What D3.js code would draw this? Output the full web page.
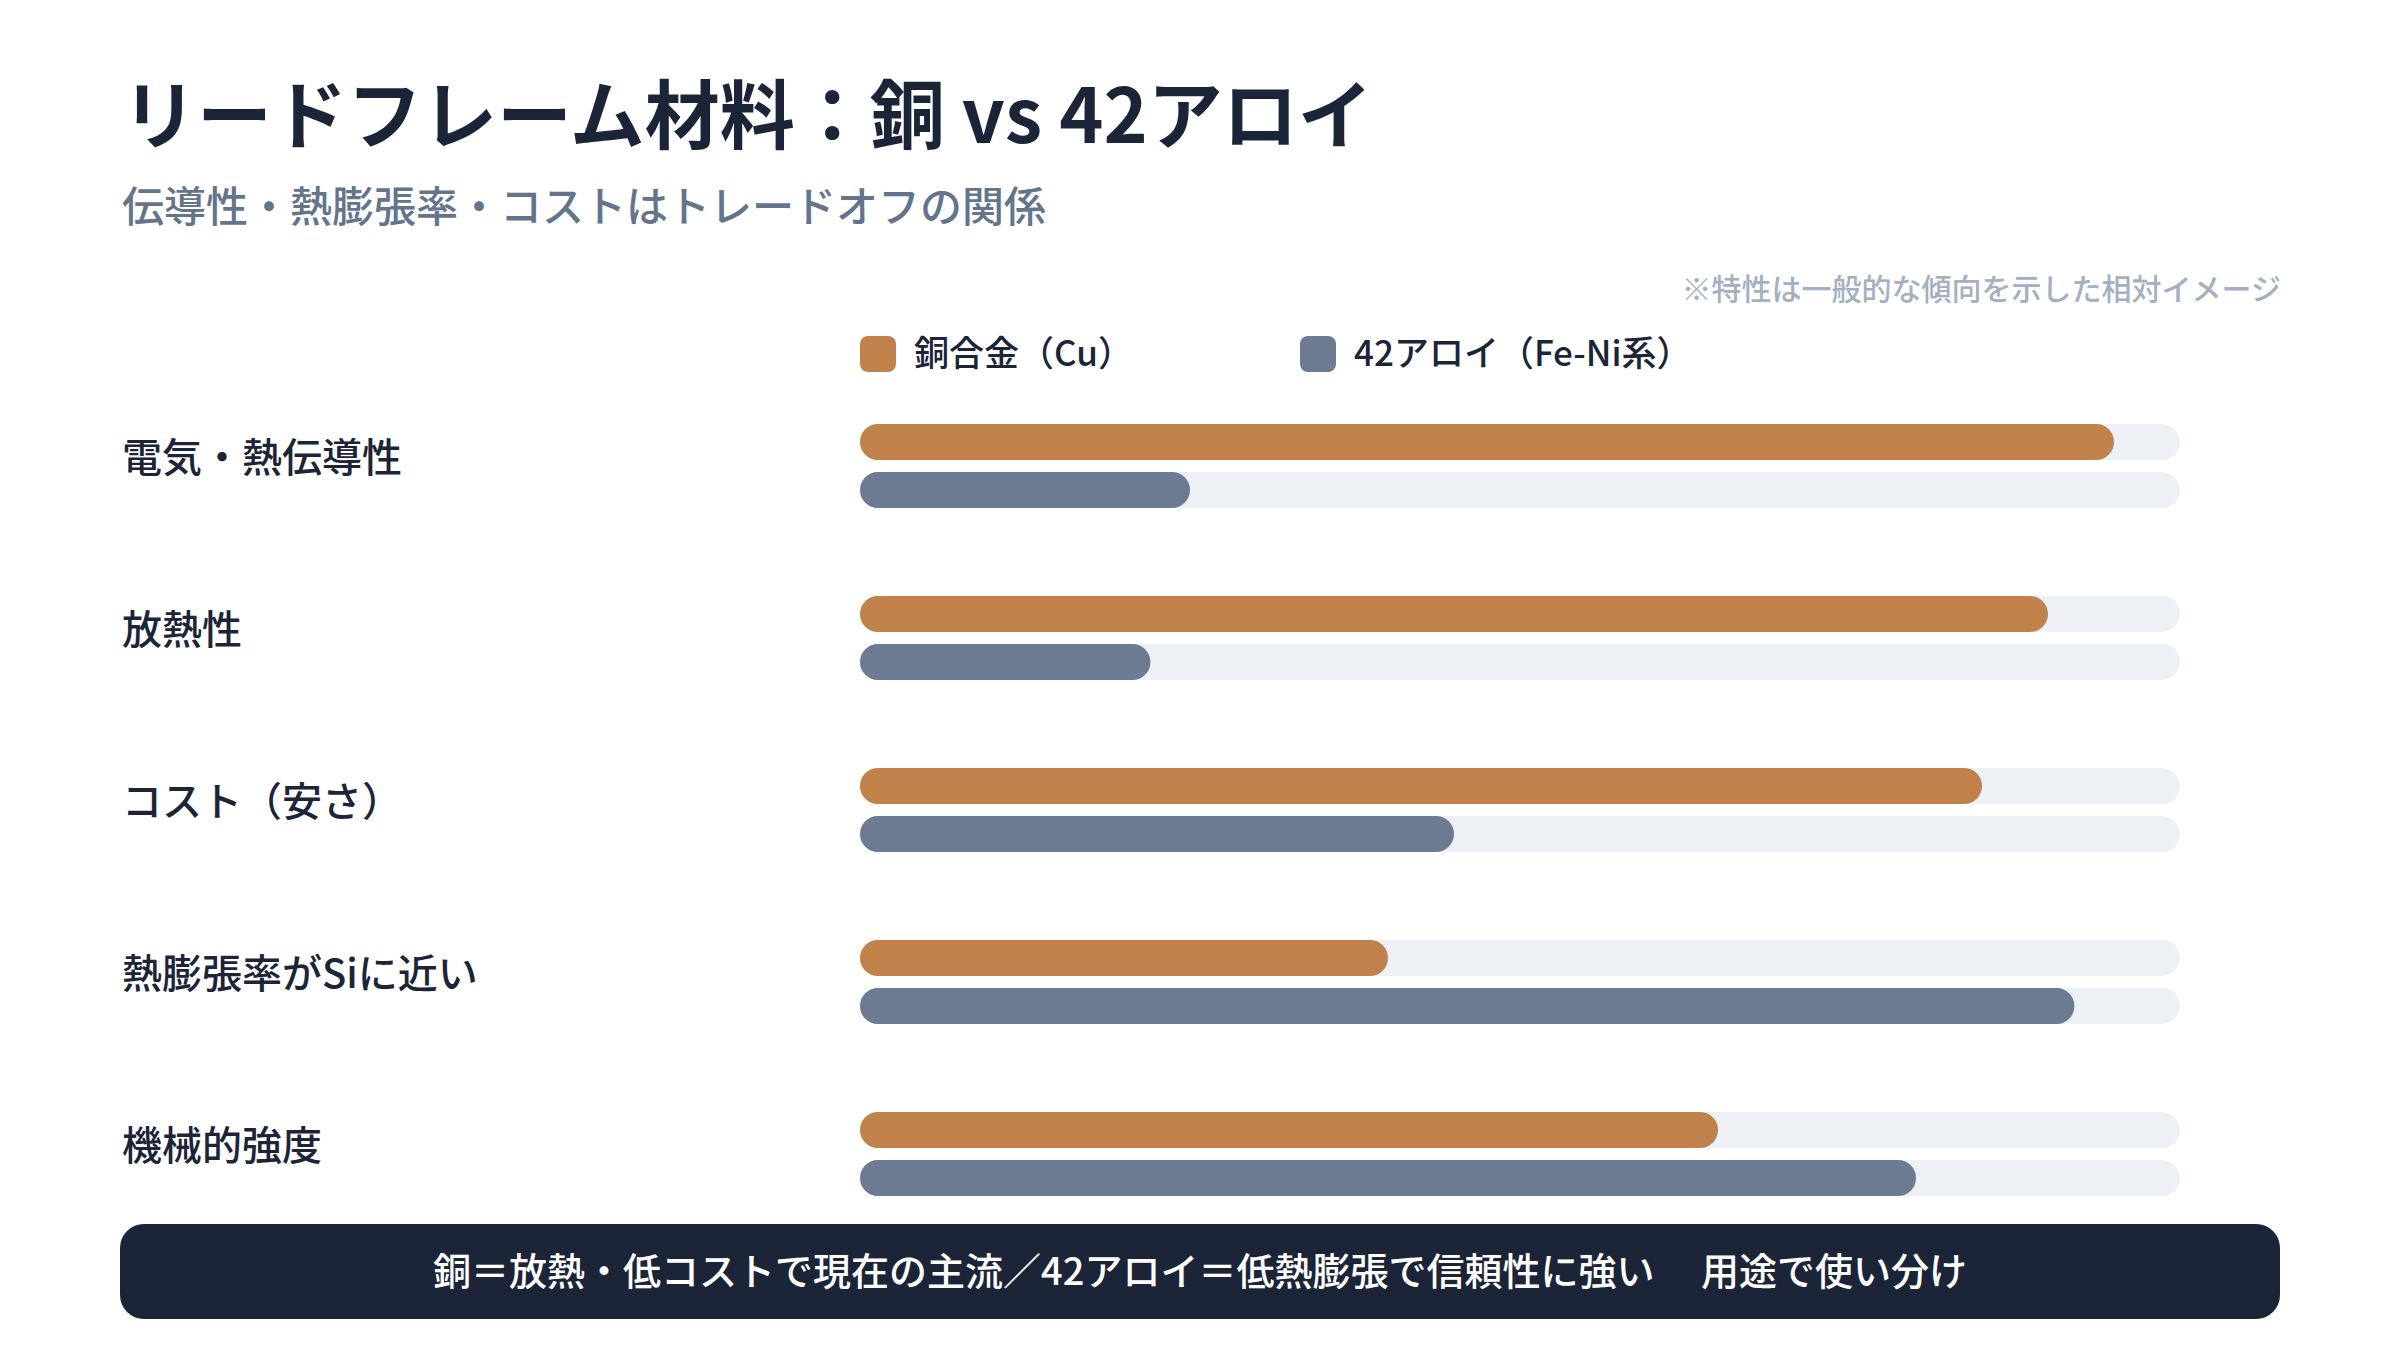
<!DOCTYPE html>
<html lang="ja">
<head>
<meta charset="utf-8">
<script src="https://cdn.jsdelivr.net/npm/d3@7"></script>
<style>
  html, body { margin: 0; padding: 0; background: #ffffff; }
  svg { display: block; font-family: "Noto Sans CJK JP", "Noto Sans", sans-serif; }
</style>
</head>
<body>
<svg id="chart" width="2400" height="1350"></svg>
<script>
const title = "リードフレーム材料：銅 vs 42アロイ";
const subtitle = "伝導性・熱膨張率・コストはトレードオフの関係";
const note = "※特性は一般的な傾向を示した相対イメージ";
const footerText = "銅＝放熱・低コストで現在の主流／42アロイ＝低熱膨張で信頼性に強い　   用途で使い分け";

const categories = ["電気・熱伝導性", "放熱性", "コスト（安さ）", "熱膨張率がSiに近い", "機械的強度"];
const seriesNames = ["銅合金（Cu）", "42アロイ（Fe-Ni系）"];
const copperValues = [95, 90, 85, 40, 65];
const alloyValues = [25, 22, 45, 92, 80];
const colors = ["#c0814b", "#6c7b91"];

const svg = d3.select("#chart");

// Title & subtitle
svg.append("text").attr("x", 122).attr("y", 143)
  .attr("font-size", 75).attr("font-weight", 700).attr("fill", "#1c2437")
  .text(title);
svg.append("text").attr("x", 122).attr("y", 222)
  .attr("font-size", 42).attr("font-weight", 500).attr("fill", "#64748b")
  .text(subtitle);
svg.append("text").attr("x", 2281).attr("y", 300)
  .attr("text-anchor", "end")
  .attr("font-size", 30).attr("font-weight", 500).attr("fill", "#a3b0c2")
  .text(note);

// Scales
const x = d3.scaleLinear().domain([0, 100]).range([860, 2180]);
const y = d3.scaleBand().domain(categories).range([424, 424 + 172 * categories.length]).paddingInner(0).paddingOuter(0);
const ySub = d3.scaleBand().domain(seriesNames).range([0, 84]).paddingInner(0.25);
const bh = ySub.bandwidth();

// Legend
const legendX = [860, 1300];
const legend = svg.append("g");
seriesNames.forEach((s, i) => {
  const g = legend.append("g").attr("transform", `translate(${legendX[i]},336)`);
  g.append("rect").attr("width", 36).attr("height", 36).attr("rx", 8).attr("fill", colors[i]);
  g.append("text").attr("x", 54).attr("y", 30)
    .attr("font-size", 35).attr("font-weight", 500).attr("fill", "#1c2437")
    .text(s);
});

// Rows
const data = categories.map((c, i) => ({ cat: c, vals: [copperValues[i], alloyValues[i]] }));
const rows = svg.append("g").selectAll("g.row").data(data).join("g")
  .attr("class", "row")
  .attr("transform", d => `translate(0,${y(d.cat)})`);

rows.append("text").attr("x", 122).attr("y", 48)
  .attr("font-size", 40).attr("font-weight", 500).attr("fill", "#1c2437")
  .text(d => d.cat);

seriesNames.forEach((s, si) => {
  rows.append("rect")
    .attr("x", x(0)).attr("y", ySub(s))
    .attr("width", x(100) - x(0)).attr("height", bh)
    .attr("rx", bh / 2).attr("fill", "#edf1f6");
  rows.append("rect")
    .attr("x", x(0)).attr("y", ySub(s))
    .attr("width", d => x(d.vals[si]) - x(0)).attr("height", bh)
    .attr("rx", bh / 2).attr("fill", colors[si]);
});

// Footer
svg.append("rect").attr("x", 120).attr("y", 1224).attr("width", 2160).attr("height", 95)
  .attr("rx", 24).attr("fill", "#1c2437");
svg.append("text").attr("x", 1200).attr("y", 1285)
  .attr("text-anchor", "middle")
  .attr("font-size", 38).attr("font-weight", 500).attr("fill", "#ffffff")
  .text(footerText);
</script>
</body>
</html>
